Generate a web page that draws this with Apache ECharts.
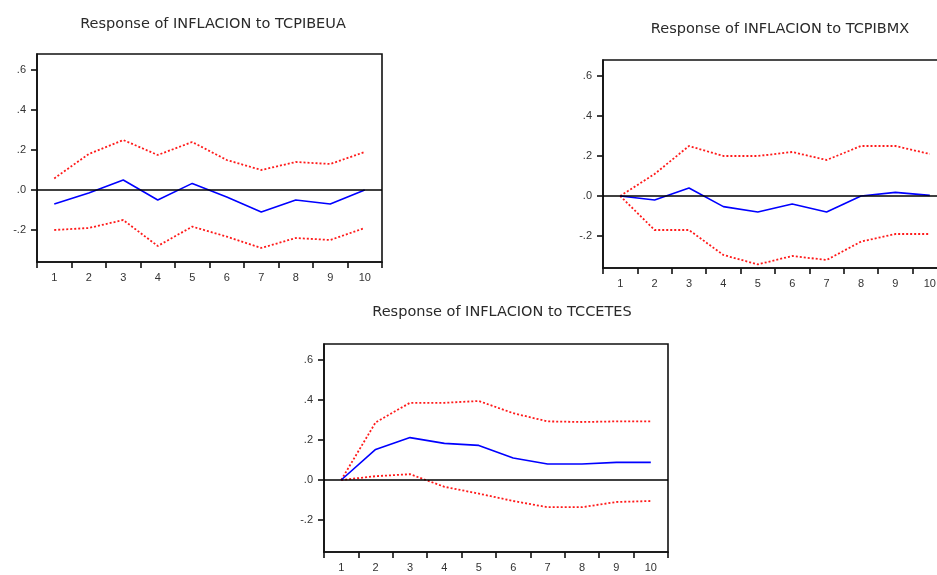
<!DOCTYPE html>
<html>
<head>
<meta charset="utf-8">
<script src="https://cdn.jsdelivr.net/npm/echarts@6/dist/echarts.min.js"></script>
<style>
  html, body { margin: 0; padding: 0; background: #fff; }
  #chart { width: 937px; height: 575px; }
</style>
</head>
<body>
<div id="chart"></div>
<script>
// periodos de la respuesta impulso
const horizons = ['1', '2', '3', '4', '5', '6', '7', '8', '9', '10'];
const yTicks = [-0.2, 0, 0.2, 0.4, 0.6];

// Response of INFLACION to TCPIBEUA
const usaResp  = [-0.07, -0.015, 0.05, -0.05, 0.033, -0.035, -0.11, -0.05, -0.07, 0.0];
const usaUpper = [0.058, 0.18, 0.25, 0.175, 0.24, 0.15, 0.10, 0.14, 0.13, 0.19];
const usaLower = [-0.20, -0.19, -0.15, -0.28, -0.183, -0.233, -0.29, -0.24, -0.25, -0.19];

// Response of INFLACION to TCPIBMX
const mexResp  = [0.0, -0.02, 0.04, -0.053, -0.08, -0.04, -0.08, 0.0, 0.018, 0.003];
const mexUpper = [0.0, 0.11, 0.25, 0.20, 0.20, 0.22, 0.18, 0.25, 0.25, 0.21];
const mexLower = [0.0, -0.17, -0.17, -0.295, -0.342, -0.30, -0.32, -0.228, -0.19, -0.19];

// Response of INFLACION to TCCETES
const cetesResp  = [0.0, 0.153, 0.212, 0.183, 0.173, 0.11, 0.08, 0.08, 0.088, 0.088];
const cetesUpper = [0.0, 0.288, 0.386, 0.386, 0.395, 0.334, 0.293, 0.29, 0.293, 0.293];
const cetesLower = [0.0, 0.019, 0.029, -0.034, -0.068, -0.105, -0.136, -0.136, -0.11, -0.105];

const panels = [
  { title: 'Response of INFLACION to TCPIBEUA', resp: usaResp, up: usaUpper, lo: usaLower,
    grid: { left: 37, top: 54, width: 345, height: 208 }, tx: 208, ty: 12 },
  { title: 'Response of INFLACION to TCPIBMX', resp: mexResp, up: mexUpper, lo: mexLower,
    grid: { left: 603, top: 60, width: 344, height: 208 }, tx: 775, ty: 17 },
  { title: 'Response of INFLACION to TCCETES', resp: cetesResp, up: cetesUpper, lo: cetesLower,
    grid: { left: 324, top: 344, width: 344, height: 208 }, tx: 497, ty: 300 }
];

const fmt = function (v) {
  const s = '.' + Math.round(Math.abs(v) * 10);
  return v < -1e-9 ? '-' + s : s;
};

const labelStyle = { color: '#333', fontSize: 11, fontFamily: 'Liberation Sans, Arial, sans-serif' };

const chart = echarts.init(document.getElementById('chart'));
const option = {
  animation: false,
  backgroundColor: '#fff',
  title: [],
  grid: [],
  xAxis: [],
  yAxis: [],
  series: []
};

panels.forEach(function (p, i) {
  option.title.push({
    text: p.title,
    left: p.tx,
    top: p.ty,
    textAlign: 'center',
    textStyle: { fontSize: 14.5, fontWeight: 'normal', color: '#2a2a2a', fontFamily: 'DejaVu Sans, sans-serif' }
  });
  option.grid.push(Object.assign({
    show: true, borderColor: '#111', borderWidth: 1.6,
    containLabel: false, outerBoundsMode: 'none'
  }, p.grid));
  option.xAxis.push({
    type: 'category',
    gridIndex: i,
    data: horizons,
    boundaryGap: true,
    axisLine: { show: true, onZero: false, lineStyle: { color: '#111', width: 1.6 } },
    axisTick: { show: true, inside: false, length: 6, lineStyle: { color: '#111', width: 1.6 } },
    axisLabel: Object.assign({ margin: 10 }, labelStyle),
    splitLine: { show: false }
  });
  option.yAxis.push({
    type: 'value',
    gridIndex: i,
    min: -0.36,
    max: 0.68,
    axisLine: { show: true, lineStyle: { color: '#111', width: 1.6 } },
    axisTick: { show: true, inside: false, length: 6, customValues: yTicks, lineStyle: { color: '#111', width: 1.6 } },
    axisLabel: Object.assign({ margin: 11, formatter: fmt, customValues: yTicks }, labelStyle),
    splitLine: { show: false }
  });
  option.series.push({
    type: 'line', xAxisIndex: i, yAxisIndex: i, data: p.up,
    symbol: 'none', lineStyle: { color: '#ff1a1a', width: 1.8, type: [2, 2] }
  });
  option.series.push({
    type: 'line', xAxisIndex: i, yAxisIndex: i, data: p.lo,
    symbol: 'none', lineStyle: { color: '#ff1a1a', width: 1.8, type: [2, 2] }
  });
  option.series.push({
    type: 'line', xAxisIndex: i, yAxisIndex: i, data: p.resp,
    symbol: 'none', lineStyle: { color: '#0000ff', width: 1.6 },
    markLine: {
      silent: true, symbol: 'none', label: { show: false },
      lineStyle: { color: '#000', width: 1.6, type: 'solid' },
      data: [{ yAxis: 0 }]
    }
  });
});

chart.setOption(option);
</script>
</body>
</html>
